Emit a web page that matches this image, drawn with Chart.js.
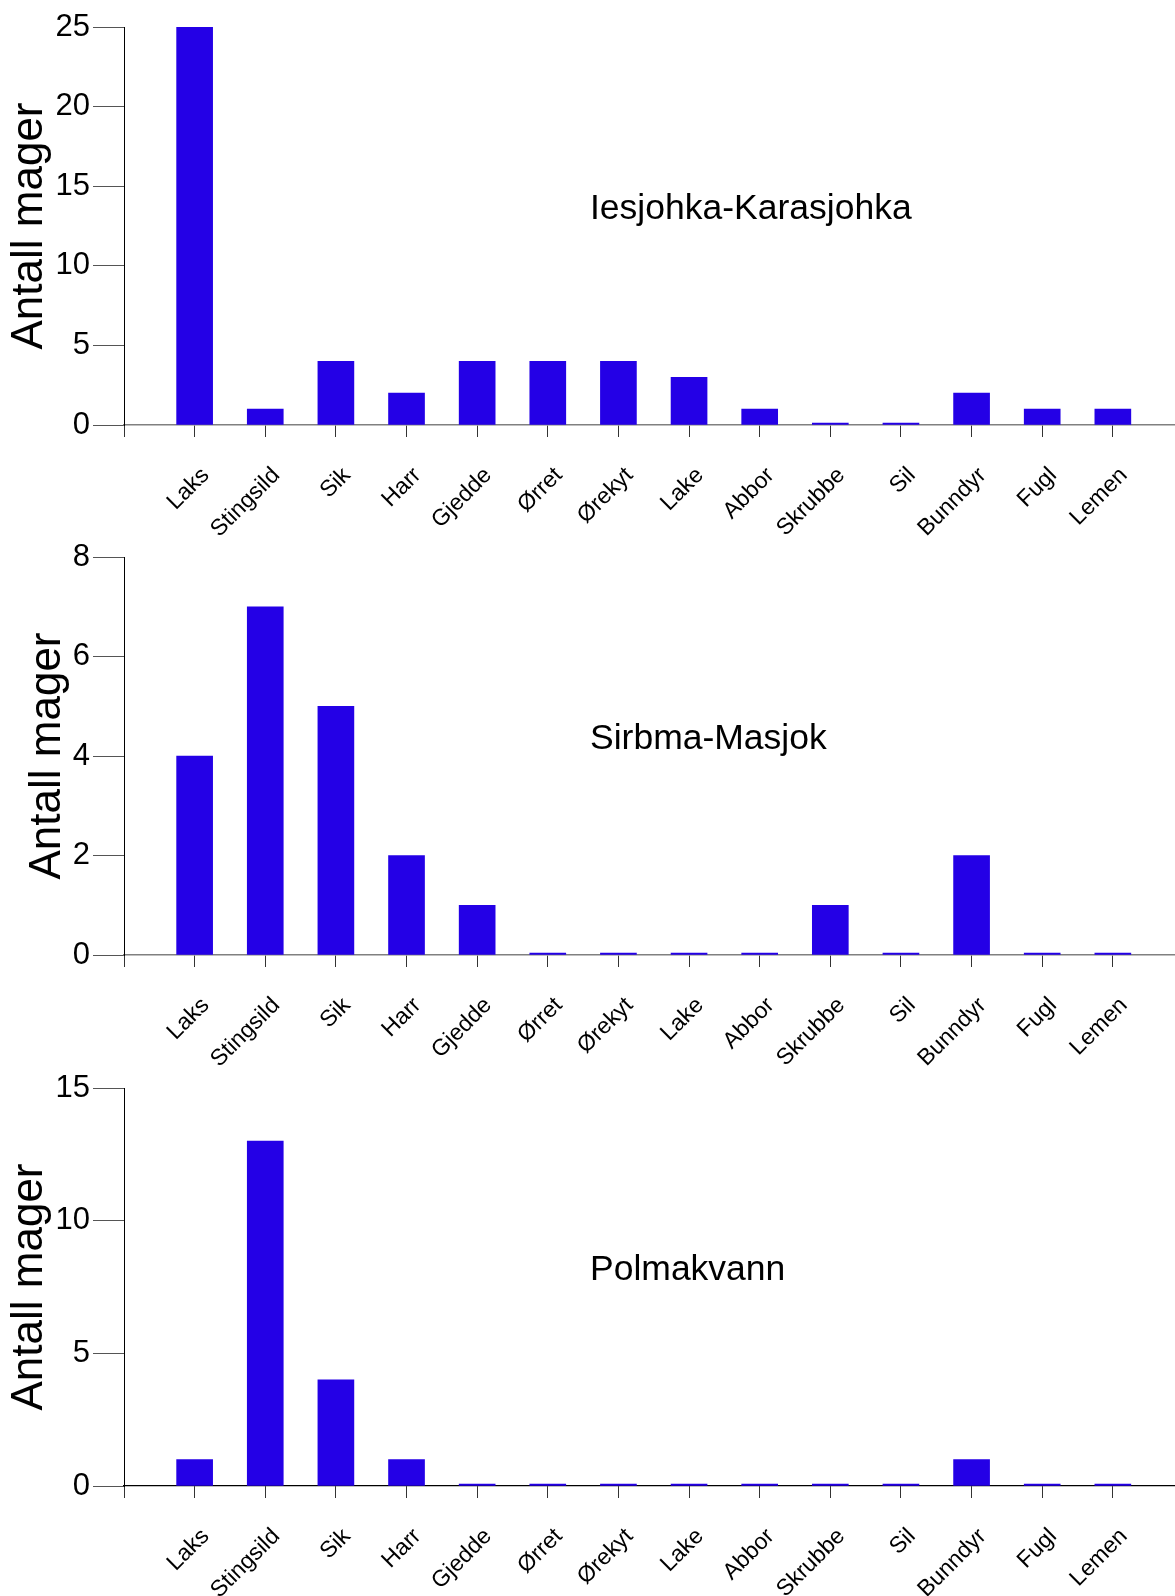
<!DOCTYPE html>
<html>
<head>
<meta charset="utf-8">
<script src="https://cdn.jsdelivr.net/npm/chart.js@4.4.1/dist/chart.umd.min.js"></script>
<style>
  html, body { margin: 0; padding: 0; background: #fff; }
  #wrap { position: relative; width: 1175px; height: 1596px; overflow: hidden; }
  canvas { position: absolute; left: 0; }
</style>
</head>
<body>
<div id="wrap">
  <canvas id="c1" width="1175" height="560" style="top:0px"></canvas>
  <canvas id="c2" width="1175" height="560" style="top:530px"></canvas>
  <canvas id="c3" width="1175" height="535" style="top:1061px"></canvas>
</div>
<script>
// prey categories along the x axis
const categories = ["Laks", "Stingsild", "Sik", "Harr", "Gjedde", "Ørret", "Ørekyt",
  "Lake", "Abbor", "Skrubbe", "Sil", "Bunndyr", "Fugl", "Lemen"];

// number of stomachs per category, one list per site
const iesjohka = [25, 1, 4, 2, 4, 4, 4, 3, 1, 0, 0, 2, 1, 1];
const sirbma   = [4, 7, 5, 2, 1, 0, 0, 0, 0, 1, 0, 2, 0, 0];
const polmak   = [1, 13, 4, 1, 0, 0, 0, 0, 0, 0, 0, 1, 0, 0];

const yMax = [25, 8, 15];
const yStep = [5, 2, 5];
const siteNames = ["Iesjohka-Karasjohka", "Sirbma-Masjok", "Polmakvann"];

const FONT = '"Liberation Sans", Arial, Helvetica, sans-serif';
Chart.defaults.font.family = FONT;
Chart.defaults.color = '#000';

// site name written inside the plot area
const siteLabel = {
  id: 'siteLabel',
  afterDraw(chart, args, opts) {
    const { ctx, chartArea } = chart;
    ctx.save();
    ctx.font = '35.5px ' + FONT;
    ctx.fillStyle = '#000';
    ctx.textBaseline = 'alphabetic';
    ctx.fillText(opts.text, chartArea.left + 466, chartArea.top + 192);
    ctx.restore();
  }
};

// canvases overlap, so the x axis always ends 425px below the canvas top
function makeChart(id, values, idx, opts) {
  const ctx = document.getElementById(id).getContext('2d');
  return new Chart(ctx, {
    type: 'bar',
    data: {
      datasets: [{
        data: values.map((v, i) => ({ x: i + 1, y: v })),
        backgroundColor: '#2400e6',
        borderWidth: 0,
        barThickness: 36,
        minBarLength: 2
      }]
    },
    plugins: [siteLabel],
    options: {
      responsive: false,
      animation: false,
      devicePixelRatio: 1,
      layout: { padding: { top: 27, left: 0, right: 0, bottom: 0 } },
      plugins: {
        legend: { display: false },
        tooltip: { enabled: false },
        siteLabel: { text: siteNames[idx] }
      },
      scales: {
        x: {
          type: 'linear',
          offset: false,
          min: 0,
          max: 14.88,
          afterBuildTicks: s => {
            s.ticks = [0, ...categories.map((c, i) => i + 1)].map(v => ({ value: v }));
          },
          afterFit: s => { s.height = s.chart.height - 425; },
          grid: { offset: false, drawOnChartArea: false, drawTicks: true, tickLength: 12, color: '#333' },
          border: { display: true, color: opts.xBorder, width: opts.xBorderWidth },
          ticks: {
            autoSkip: false,
            minRotation: 45,
            maxRotation: 45,
            padding: 25,
            labelOffset: 11,
            font: { size: 23 },
            color: '#000',
            callback: v => (v >= 1 && v <= categories.length ? categories[v - 1] : '')
          }
        },
        y: {
          min: 0,
          max: yMax[idx],
          afterFit: s => { s.width = 124; },
          grid: { drawOnChartArea: false, drawTicks: true, tickLength: 31, color: '#555' },
          border: { display: true, color: '#000', width: 1 },
          ticks: { stepSize: yStep[idx], padding: 3, font: { size: 31 }, color: '#000' },
          title: {
            display: true,
            text: 'Antall mager',
            color: '#000',
            font: { size: 44, lineHeight: 1 },
            padding: { top: opts.titlePad, bottom: 0 }
          }
        }
      }
    }
  });
}

makeChart('c1', iesjohka, 0, { xBorder: '#808080', xBorderWidth: 1.5, titlePad: 8 });
makeChart('c2', sirbma, 1, { xBorder: '#808080', xBorderWidth: 1.5, titlePad: 26 });
makeChart('c3', polmak, 2, { xBorder: '#000', xBorderWidth: 1.2, titlePad: 8 });
</script>
</body>
</html>
